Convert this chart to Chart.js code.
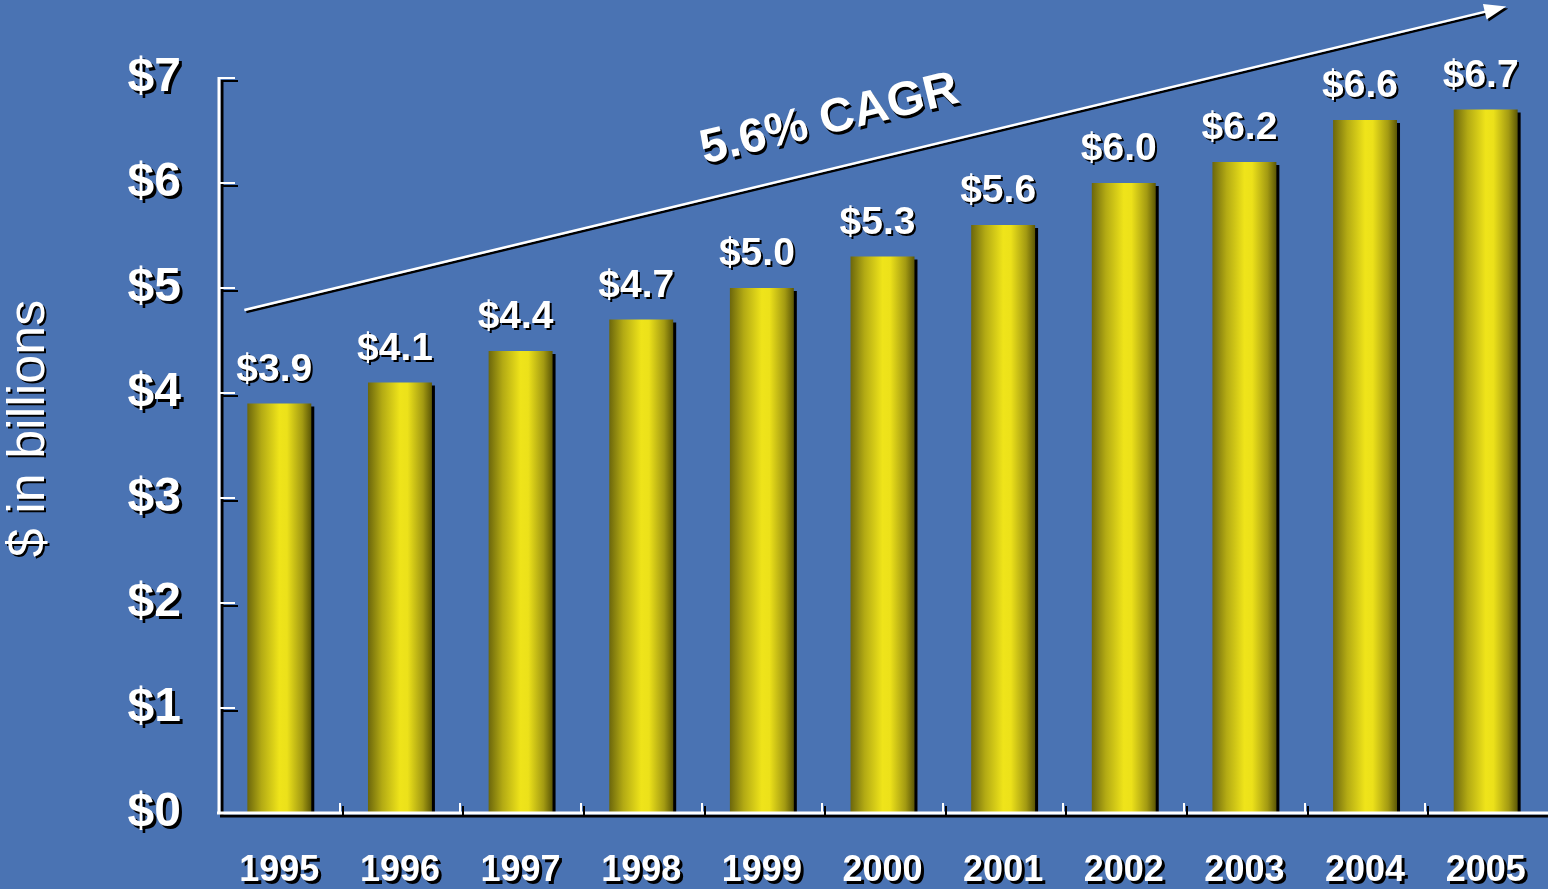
<!DOCTYPE html>
<html>
<head>
<meta charset="utf-8">
<script src="https://cdn.jsdelivr.net/npm/chart.js@4"></script>
<style>
  html, body { margin: 0; padding: 0; background: #4a73b3; overflow: hidden; }
  #caixa { width: 1548px; height: 889px; }
</style>
</head>
<body>
<div id="caixa"><canvas id="grafico"></canvas></div>
<script>
const anos = ['1995', '1996', '1997', '1998', '1999', '2000', '2001', '2002', '2003', '2004', '2005'];
const valores = [3.9, 4.1, 4.4, 4.7, 5.0, 5.3, 5.6, 6.0, 6.2, 6.6, 6.7];
const ticksY = [0, 1, 2, 3, 4, 5, 6, 7];
const tituloY = '$ in billions';
const textoCagr = '5.6% CAGR';
// seta da CAGR em unidades dos dados (indice da categoria, valor)
const setaInicio = [-0.29, 4.79];
const setaFim = [10.17, 7.68];
const posCagr = [4.56, 6.6];

const FONTE = "'Liberation Sans', Arial, sans-serif";
const LARGURA_BARRA = 0.53;

function gradienteBarra(ctx) {
  const chart = ctx.chart;
  const x = chart.scales.x;
  if (!chart.chartArea || ctx.dataIndex === undefined || !x) return '#e6dc18';
  const centro = x.getPixelForValue(ctx.dataIndex);
  const meia = (x.width / anos.length) * LARGURA_BARRA / 2;
  const g = chart.ctx.createLinearGradient(centro - meia, 0, centro + meia, 0);
  g.addColorStop(0, '#6c670c');
  g.addColorStop(0.22, '#b3aa14');
  g.addColorStop(0.5, '#efe41a');
  g.addColorStop(0.62, '#ece11a');
  g.addColorStop(0.86, '#a39a12');
  g.addColorStop(1, '#5c5706');
  return g;
}

const desenhos = {
  id: 'desenhos',
  beforeDraw(chart) {
    const c = chart.ctx;
    c.save();
    c.shadowColor = '#000';
    c.shadowOffsetX = 3;
    c.shadowOffsetY = 3;
    c.shadowBlur = 0;
  },
  afterDatasetsDraw(chart) {
    const c = chart.ctx;
    const area = chart.chartArea;
    const x = chart.scales.x, y = chart.scales.y;
    c.save();
    c.strokeStyle = '#fff';
    c.lineCap = 'butt';

    // eixo y e marcas para dentro
    c.lineWidth = 3;
    c.beginPath();
    c.moveTo(area.left, area.top - 1);
    c.lineTo(area.left, area.bottom);
    c.stroke();
    c.lineWidth = 2;
    ticksY.forEach(v => {
      const py = y.getPixelForValue(v);
      c.beginPath();
      c.moveTo(area.left, py);
      c.lineTo(area.left + 16, py);
      c.stroke();
    });

    // eixo x e marcas entre categorias
    c.lineWidth = 3;
    c.beginPath();
    c.moveTo(area.left - 2, area.bottom);
    c.lineTo(chart.width, area.bottom);
    c.stroke();
    c.lineWidth = 2;
    for (let i = 1; i < anos.length; i++) {
      const px = Math.round(x.getPixelForValue(i - 0.5));
      c.beginPath();
      c.moveTo(px, area.bottom);
      c.lineTo(px, area.bottom - 10);
      c.stroke();
    }

    // rotulos dos valores
    c.fillStyle = '#fff';
    c.shadowOffsetX = 2;
    c.shadowOffsetY = 2;
    c.font = 'bold 39px ' + FONTE;
    c.textAlign = 'center';
    c.textBaseline = 'alphabetic';
    chart.getDatasetMeta(0).data.forEach((barra, i) => {
      c.fillText('$' + valores[i].toFixed(1), barra.x - 5, barra.y - 23);
    });
    c.restore();
  },
  afterDraw(chart) {
    const c = chart.ctx;
    const area = chart.chartArea;
    const x = chart.scales.x, y = chart.scales.y;
    const x0 = x.getPixelForValue(setaInicio[0]), y0 = y.getPixelForValue(setaInicio[1]);
    const x1 = x.getPixelForValue(setaFim[0]), y1 = y.getPixelForValue(setaFim[1]);
    const ang = Math.atan2(y1 - y0, x1 - x0);

    c.save();
    c.strokeStyle = '#fff';
    c.fillStyle = '#fff';
    c.shadowOffsetX = 2;
    c.shadowOffsetY = 2;
    c.lineWidth = 2.5;
    c.beginPath();
    c.moveTo(x0, y0);
    c.lineTo(x1 - 16 * Math.cos(ang), y1 - 16 * Math.sin(ang));
    c.stroke();
    // ponta da seta
    c.translate(x1, y1);
    c.rotate(ang);
    c.beginPath();
    c.moveTo(0, 0);
    c.lineTo(-22, -8);
    c.lineTo(-22, 8);
    c.closePath();
    c.fill();
    c.restore();

    // texto CAGR
    c.save();
    c.fillStyle = '#fff';
    c.shadowOffsetX = 2;
    c.shadowOffsetY = 3;
    c.font = 'bold 48px ' + FONTE;
    c.textAlign = 'center';
    c.textBaseline = 'middle';
    c.translate(x.getPixelForValue(posCagr[0]), y.getPixelForValue(posCagr[1]));
    c.rotate(ang);
    c.fillText(textoCagr, 0, 0);
    c.restore();

    // titulo do eixo y
    c.save();
    c.fillStyle = '#fff';
    c.shadowOffsetX = 2;
    c.shadowOffsetY = 2;
    c.font = '52px ' + FONTE;
    c.textAlign = 'center';
    c.textBaseline = 'middle';
    c.translate(30, (area.top + area.bottom) / 2 - 17);
    c.rotate(-Math.PI / 2);
    c.fillText(tituloY, 0, 0);
    c.restore();

    c.restore();
  }
};

new Chart(document.getElementById('grafico'), {
  type: 'bar',
  data: {
    labels: anos,
    datasets: [{
      data: valores,
      backgroundColor: gradienteBarra,
      borderWidth: 0,
      barPercentage: LARGURA_BARRA,
      categoryPercentage: 1.0
    }]
  },
  options: {
    responsive: true,
    maintainAspectRatio: false,
    animation: false,
    layout: { padding: { left: 0, right: 2, top: 78, bottom: 0 } },
    plugins: {
      legend: { display: false },
      tooltip: { enabled: false }
    },
    scales: {
      x: {
        grid: { display: false, drawTicks: false },
        border: { display: false },
        afterFit: s => { s.height = 76; s.paddingLeft = 0; s.paddingRight = 0; },
        ticks: {
          color: '#fff',
          font: { family: FONTE, size: 36, weight: 'bold' },
          padding: 36,
          maxRotation: 0,
          autoSkip: false
        }
      },
      y: {
        min: 0,
        max: 7,
        grid: { display: false, drawTicks: false },
        border: { display: false },
        afterFit: s => { s.width = 219; },
        afterBuildTicks: s => { s.ticks = ticksY.map(v => ({ value: v })); },
        ticks: {
          color: '#fff',
          font: { family: FONTE, size: 48, weight: 'bold' },
          padding: 38,
          callback: v => '$' + v
        }
      }
    }
  },
  plugins: [desenhos]
});
</script>
</body>
</html>
